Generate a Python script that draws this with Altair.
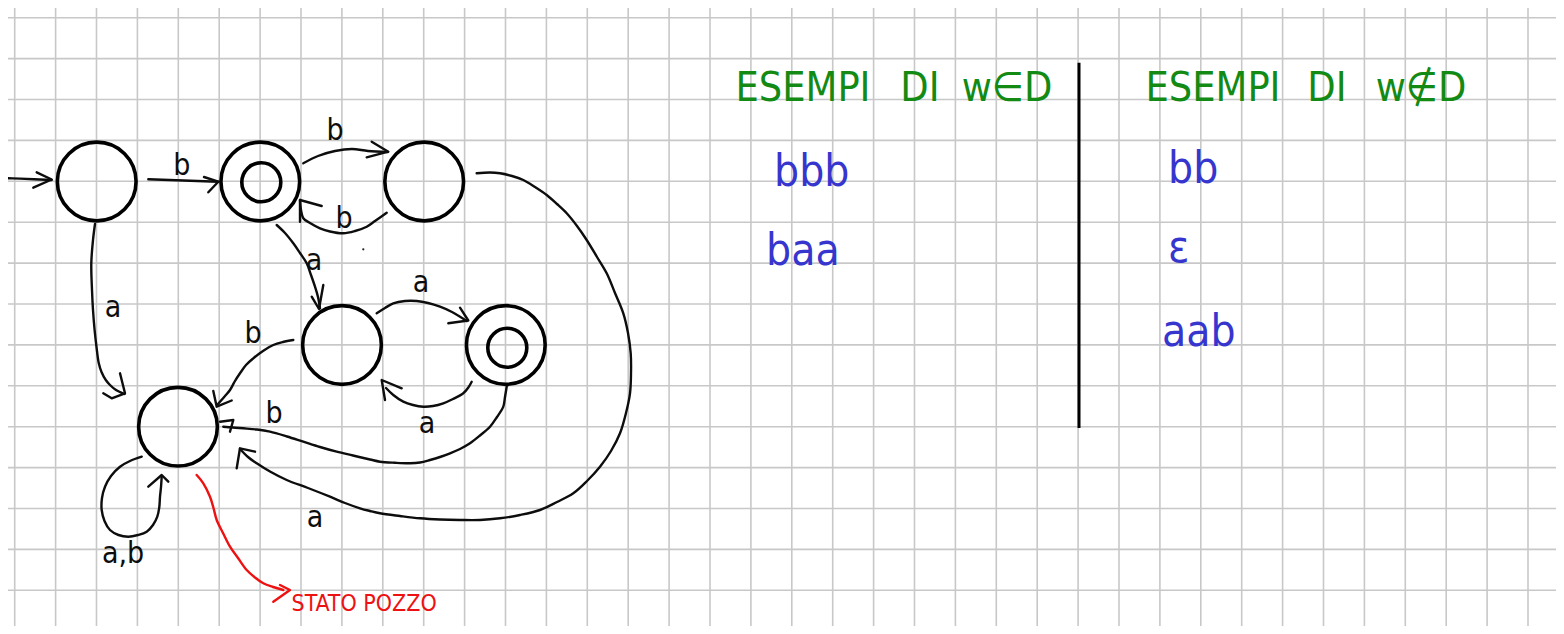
import altair as alt
import pandas as pd

W, H = 1548, 618
X0, Y0 = 8, 8

# ---------------- grid paper ----------------
grid_x = [round(14.7 + 40.9 * k, 1) for k in range(38)]
grid_y = [round(17.7 + 40.9 * k, 1) for k in range(16)]

# ---------------- states ----------------
state_names = ["q0", "q1", "q2", "q3", "q4", "q5"]
state_x = [96.7, 260.3, 424.2, 342.0, 505.8, 178.0]
state_y = [181.5, 181.5, 181.5, 345.0, 345.0, 426.7]
accept_names = ["q1", "q4"]
accept_x = [261.3, 507.3]
accept_y = [182.3, 347.8]

# ---------------- edges (hand-drawn strokes) ----------------
entry = [(0, 178.0), (20, 178.6), (51.7, 180.0)]
entry_head = [(36.7, 172.3), (51.7, 179.5), (33.3, 187.7)]
e01 = [(148.3, 179.3), (218.3, 181.7)]
e01_head = [(204.0, 177.0), (218.3, 181.7), (208.3, 192.3)]
e12 = [(303.3, 163.3), (318, 156), (335, 151), (352, 149), (368, 151), (388, 152)]
e12_head = [(371.7, 141.7), (388.3, 151.7), (366.7, 157.3)]
e21 = [(386.7, 212.7), (375, 221), (366.7, 226.7), (355, 231), (343.3, 233.3), (330, 231.5),
       (320, 228.3), (310, 223), (303.3, 218.3), (301, 210), (300, 200)]
e21_head = [(300, 221.7), (300, 200), (321.7, 206)]
e13 = [(276.7, 225), (285, 233), (293.3, 243.3), (300, 253), (306.7, 263.3), (311, 275),
       (315, 286.7), (318, 297), (320, 308.3)]
e13_head = [(311.7, 296.7), (319, 309), (323.3, 285)]
e34 = [(376.7, 313.3), (385, 308), (393.3, 303.3), (405, 301), (416.7, 301), (428, 303),
       (440, 306.7), (452, 312), (466.7, 321)]
e34_head = [(460, 307.7), (468.3, 320.5), (448.3, 323.3)]
e43 = [(471.7, 381.7), (468, 388), (463.3, 393.3), (453, 399), (443.3, 403.3), (433, 406),
       (423.3, 406.7), (413, 405), (403.3, 401.7), (393.3, 395), (386, 388)]
e43_head = [(385, 400), (381.7, 380), (401.7, 388.3)]
e35 = [(293.3, 340), (283, 342), (273.3, 345), (263, 351), (253.3, 358.3), (246, 365),
       (240, 373.3), (235, 381), (230, 390), (225, 396), (218, 404)]
e35_head = [(213.3, 391), (216.7, 406.7), (231.7, 400.5)]
e05 = [(95, 224), (93, 240), (91.3, 263.3), (92, 290), (93, 310), (94.6, 330), (96.5, 347),
       (98.8, 363.3), (101.5, 372), (105.8, 380), (110, 385), (116, 390), (124.5, 394)]
e05_head = [(103.3, 393.3), (111.7, 398.3), (125, 393.3), (120, 373.3)]
e45 = [(506.7, 386.7), (505, 397), (503.3, 406.7), (497, 417), (490, 426.7), (480, 435.5),
       (470, 443.3), (460, 449), (450, 453.3), (440, 457), (430, 460), (420, 462.5),
       (410, 463.3), (395, 462.8), (380, 461.7), (370, 459.5), (353, 455.5), (336.7, 451.7),
       (320, 447), (303.3, 441.7), (287, 436.5), (270, 431.7), (257, 429.5), (243.3, 428.3),
       (233, 427.5), (223.3, 426.7)]
e45_head = [(220, 421.7), (233.3, 420), (230, 431.7)]
e25 = [(476.7, 173.3), (490, 172.5), (500, 173.3), (512, 176), (523.3, 180), (535, 187),
       (546.7, 195), (557, 204), (566.7, 213.3), (577, 226), (586.7, 240), (597, 257),
       (606.7, 273.3), (615, 293), (623.3, 313.3), (628, 333), (630.7, 353.3), (631, 373),
       (630, 393.3), (626, 413), (620, 433.3), (611, 451), (600, 466.7), (587, 481),
       (573.3, 493.3), (557, 502), (540, 510), (520, 515), (500, 518.3), (480, 520),
       (460, 520), (440, 519.5), (420, 518.3), (400, 516), (380, 513.3), (370, 511),
       (360, 508.3), (345, 503), (330, 496.7), (308, 488), (286.7, 480), (270, 471.5),
       (256.7, 463.3), (248, 457), (240, 449)]
e25_head = [(236.7, 468.3), (240, 448.3), (255, 451.7)]
e55 = [(141.7, 456.7), (130, 461), (120, 466.7), (111, 476), (105, 486.7), (102, 498),
       (101.7, 510), (104.5, 521), (110, 530), (118.5, 535), (128.3, 536.7), (138, 535),
       (146.7, 531.7), (153, 525), (157.3, 516.7), (159.3, 507), (160, 496.7), (161, 487),
       (161.7, 476.7)]
e55_head = [(148.3, 486.7), (161.7, 475), (168.3, 481.7)]
trap_pointer = [(196.7, 475), (203.3, 483.3), (210, 496.7), (213.5, 508), (216.7, 520),
                (223, 533), (230, 546.7), (238, 558), (246.7, 570), (255, 577.5),
                (263.3, 583.3), (273, 587), (283.3, 590)]
trap_head = [(280, 585), (290, 590), (273.3, 601.7)]

curves = {"entry": entry, "e01": e01, "e12": e12, "e21": e21, "e13": e13, "e34": e34,
          "e43": e43, "e35": e35, "e05": e05, "e45": e45, "e25": e25, "e55": e55,
          "trap": trap_pointer}
heads = {"entry": entry_head, "e01": e01_head, "e12": e12_head, "e21": e21_head,
         "e13": e13_head, "e34": e34_head, "e43": e43_head, "e35": e35_head,
         "e05": e05_head, "e45": e45_head, "e25": e25_head, "e55": e55_head,
         "trap": trap_head}

# ---------------- edge labels ----------------
label_text = ["b", "b", "b", "a", "a", "a", "b", "a", "b", "a", "a,b"]
label_x = [181.7, 335.0, 344.0, 314.0, 421.0, 427.0, 253.0, 113.0, 274.0, 315.0, 123.0]
label_y = [175.0, 140.0, 228.0, 270.0, 292.0, 433.0, 343.0, 317.0, 423.0, 527.0, 563.0]

dot_x = [363.3]
dot_y = [249.3]

# ---------------- right-hand table ----------------
title_words = ["ESEMPI", "DI", "w\u2208D", "ESEMPI", "DI", "w\u2209D"]
title_x = [803.0, 920.0, 1007.0, 1213.0, 1327.0, 1421.0]
title_y = [101.0, 101.0, 101.0, 101.0, 101.0, 101.0]

example_words = ["bbb", "baa", "bb", "\u03b5", "aab"]
example_x = [774.0, 766.0, 1168.0, 1168.0, 1162.0]
example_y = [186.0, 265.0, 183.0, 262.0, 346.0]

divider_x = [1079.0]
divider_top = [62.7]
divider_bottom = [428.0]

note_text = ["STATO POZZO"]
note_x = [291.5]
note_y = [611.0]

# ---------------- build tables ----------------
def path_table(paths, ink_of):
    rows = []
    for name, pts in paths.items():
        for i, (px, py) in enumerate(pts):
            rows.append({"edge": name, "i": i, "x": px, "y": py, "ink": ink_of(name)})
    return pd.DataFrame(rows)

ink = lambda n: "red" if n == "trap" else "black"
curve_df = path_table(curves, ink)
head_df = path_table(heads, ink)

xs = alt.Scale(domain=[X0, X0 + W], nice=False, zero=False)
ys = alt.Scale(domain=[Y0, Y0 + H], reverse=True, nice=False, zero=False)
X = lambda f="x": alt.X(f"{f}:Q", scale=xs, axis=None)
Y = lambda f="y": alt.Y(f"{f}:Q", scale=ys, axis=None)
ink_color = alt.Color("ink:N", scale=alt.Scale(domain=["black", "red"], range=["#0d0d0d", "#ee1111"]), legend=None)

HAND = "Liberation Sans Narrow, DejaVu Sans Condensed, Liberation Sans, sans-serif"

vgrid = alt.Chart(pd.DataFrame({"x": grid_x})).mark_rule(color="#c8c8c8", strokeWidth=1.6).encode(x=X())
hgrid = alt.Chart(pd.DataFrame({"y": grid_y})).mark_rule(color="#c8c8c8", strokeWidth=1.6).encode(y=Y())

curve_layer = alt.Chart(curve_df).mark_line(
    interpolate="catmull-rom", strokeWidth=2.4, strokeCap="round", strokeJoin="round"
).encode(x=X(), y=Y(), detail="edge:N", order="i:Q", color=ink_color)

head_layer = alt.Chart(head_df).mark_line(
    interpolate="linear", strokeWidth=2.4, strokeCap="round", strokeJoin="round"
).encode(x=X(), y=Y(), detail="edge:N", order="i:Q", color=ink_color)

states = alt.Chart(pd.DataFrame({"name": state_names, "x": state_x, "y": state_y})).mark_point(
    shape="circle", filled=False, size=6200, strokeWidth=3.6, color="#000000", opacity=1
).encode(x=X(), y=Y())

accepting = alt.Chart(pd.DataFrame({"name": accept_names, "x": accept_x, "y": accept_y})).mark_point(
    shape="circle", filled=False, size=1521, strokeWidth=3.6, color="#000000", opacity=1
).encode(x=X(), y=Y())

labels = alt.Chart(pd.DataFrame({"t": label_text, "x": label_x, "y": label_y})).mark_text(
    font=HAND, fontSize=30, color="#0d0d0d", baseline="alphabetic", align="center"
).encode(x=X(), y=Y(), text="t:N")

dot = alt.Chart(pd.DataFrame({"x": dot_x, "y": dot_y})).mark_point(
    shape="circle", filled=True, size=5, color="#222222", opacity=1
).encode(x=X(), y=Y())

titles = alt.Chart(pd.DataFrame({"t": title_words, "x": title_x, "y": title_y})).mark_text(
    font=HAND, fontSize=41, color="#138a13", baseline="alphabetic", align="center"
).encode(x=X(), y=Y(), text="t:N")

examples = alt.Chart(pd.DataFrame({"t": example_words, "x": example_x, "y": example_y})).mark_text(
    font=HAND, fontSize=44, color="#3636cf", baseline="alphabetic", align="left"
).encode(x=X(), y=Y(), text="t:N")

divider = alt.Chart(pd.DataFrame({"x": divider_x, "y": divider_top, "y2": divider_bottom})).mark_rule(
    color="#000000", strokeWidth=3
).encode(x=X(), y=Y(), y2="y2:Q")

note = alt.Chart(pd.DataFrame({"t": note_text, "x": note_x, "y": note_y})).mark_text(
    font=HAND, fontSize=23, color="#ee1111", baseline="alphabetic", align="left"
).encode(x=X(), y=Y(), text="t:N")

chart = alt.layer(
    vgrid, hgrid, curve_layer, head_layer, states, accepting, labels, dot,
    titles, examples, divider, note
).properties(
    width=W, height=H, padding=0, background="white",
    autosize=alt.AutoSizeParams(type="none")
).configure_view(strokeWidth=0)

chart.save("out.html", embed_options={"renderer": "svg", "actions": False})
